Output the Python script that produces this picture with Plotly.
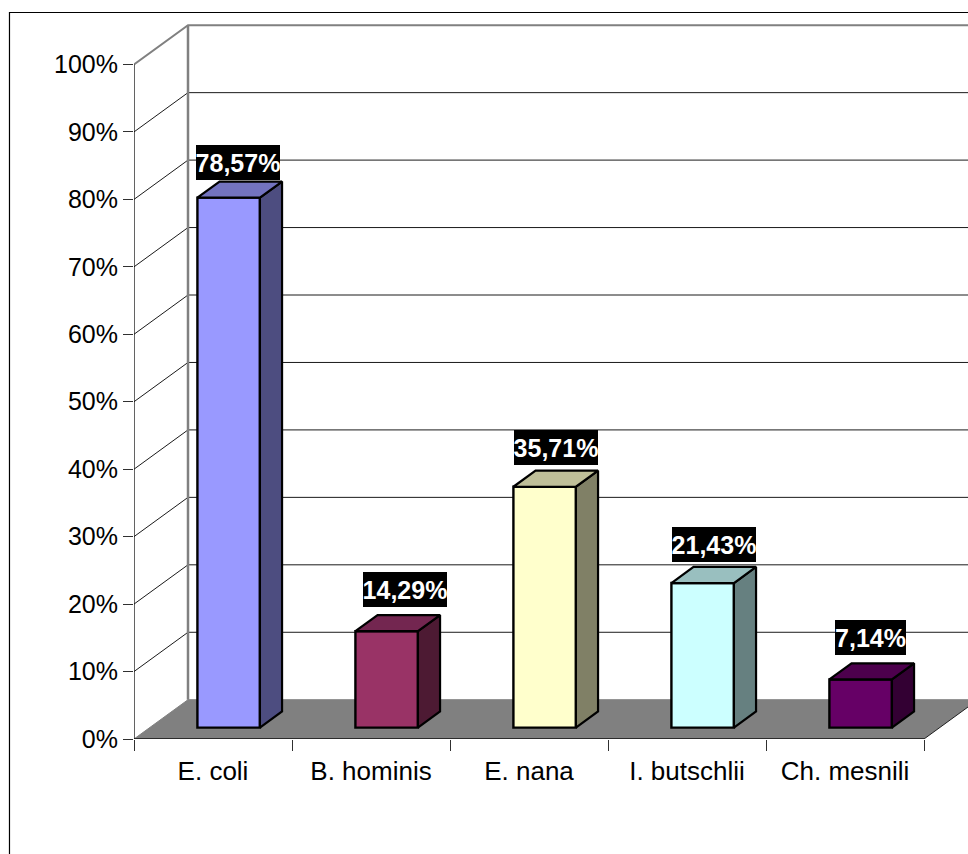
import plotly.graph_objects as go

# Chart data
categories = ["E. coli", "B. hominis", "E. nana", "I. butschlii", "Ch. mesnili"]
values = [78.57, 14.29, 35.71, 21.43, 7.14]
grid_levels = [0, 10, 20, 30, 40, 50, 60, 70, 80, 90, 100]

# Fill colours per bar: front, side, top faces
front_colors = ["#9999FF", "#993366", "#FFFFCC", "#CCFFFF", "#660066"]
side_colors = ["#4D4D80", "#4D1A33", "#808066", "#668080", "#330033"]
top_colors = ["#7373BF", "#732650", "#BFBF99", "#99BFBF", "#4D004D"]

# Label box placement relative to the bar's top front edge (pixels)
label_dx = [9.5, 18, 11, 11, 10]
label_dy = [35, 42, 39.5, 38.5, 41.5]
label_w = [84, 84, 84, 84, 71]

# Oblique projection: one full unit of depth moves this far in axis units
W, H = 968, 854
LEFT, TOP, BOTTOM = 134, 20, 114.5
PX_PER_CAT = 158
PX_PER_PCT = 6.75
DEPTH_X = 54 / PX_PER_CAT
DEPTH_Y = 39.3 / PX_PER_PCT
BAR_WIDTH = 62.5 / PX_PER_CAT
BAR_NEAR, BAR_FAR = 0.29, 0.70
N = len(categories)


def project(x, y, depth):
    return x + depth * DEPTH_X, y + depth * DEPTH_Y


def path(points):
    return "M " + " L ".join(f"{x:.4f},{y:.4f}" for x, y in points) + " Z"


def open_path(points):
    return "M " + " L ".join(f"{x:.4f},{y:.4f}" for x, y in points)


x_range = [0, (W - LEFT) / PX_PER_CAT]
y_range = [0, (H - TOP - BOTTOM) / PX_PER_PCT]

shapes = []

# Floor and back wall edges
shapes.append(dict(type="path", layer="below", xref="x", yref="y",
                   path=path([project(0, 0, 0), project(N, 0, 0), project(N, 0, 1), project(0, 0, 1)]),
                   fillcolor="#808080", line=dict(width=0)))

# Gridlines run along the side wall, then across the back wall
for level in grid_levels:
    corner = project(0, level, 1)
    top = level == 100
    shapes.append(dict(type="path", layer="below", xref="x", yref="y",
                       path=open_path([project(0, level, 0), corner, project(N, level, 1)]),
                       line=dict(color="#808080" if top or level == 0 else "#1A1A1A",
                                 width=2 if top else 1)))
shapes.append(dict(type="path", layer="below", xref="x", yref="y",
                   path=open_path([project(0, 0, 1), project(0, 100, 1)]),
                   line=dict(color="#808080", width=2.5)))

# Outer chart frame, open at the right and bottom edges of the page
frame_x = (9.5 - LEFT) / (W - LEFT)
frame_y = (H - BOTTOM - 12.5) / (H - TOP - BOTTOM)
shapes.append(dict(type="path", layer="below", xref="paper", yref="paper",
                   path=open_path([(frame_x, (BOTTOM - H) / (H - TOP - BOTTOM)), (frame_x, frame_y), (1.0, frame_y)]),
                   line=dict(color="#000000", width=1.2)))

fig = go.Figure()

# Front faces of the bars
x_near = [project(i + 0.5, 0, BAR_NEAR)[0] for i in range(N)]
base_near = project(0, 0, BAR_NEAR)[1]
fig.add_trace(go.Bar(x=x_near, y=values, base=base_near, width=BAR_WIDTH,
                     marker=dict(color=front_colors, line=dict(color="#000000", width=2.4)),
                     hoverinfo="skip", showlegend=False))


def add_face(points, color):
    xs, ys = zip(*(points + points[:1]))
    fig.add_trace(go.Scatter(x=xs, y=ys, mode="lines", fill="toself", fillcolor=color,
                             line=dict(color="#000000", width=2.2), hoverinfo="skip",
                             showlegend=False))


# Side and top faces of the bars
for i, v in enumerate(values):
    xl = i + 0.5 - BAR_WIDTH / 2
    xr = i + 0.5 + BAR_WIDTH / 2
    add_face([project(xr, 0, BAR_NEAR), project(xr, 0, BAR_FAR),
              project(xr, v, BAR_FAR), project(xr, v, BAR_NEAR)], side_colors[i])
    add_face([project(xl, v, BAR_NEAR), project(xr, v, BAR_NEAR),
              project(xr, v, BAR_FAR), project(xl, v, BAR_FAR)], top_colors[i])

# Front axis lines, which stop at the end of the category range
fig.add_trace(go.Scatter(x=[0, 0, N], y=[100, 0, 0], mode="lines",
                         line=dict(color="#101010", width=1.3), hoverinfo="skip",
                         showlegend=False, cliponaxis=False))
fig.add_trace(go.Scatter(x=[N, N + DEPTH_X], y=[0, DEPTH_Y], mode="lines",
                         line=dict(color="#202020", width=1), hoverinfo="skip",
                         showlegend=False))

# Value labels on black boxes
annotations = []
for i, v in enumerate(values):
    annotations.append(dict(
        x=x_near[i], y=v + base_near, xref="x", yref="y",
        text=f"<b>{v:.2f}%</b>".replace(".", ","),
        showarrow=False, xanchor="center", yanchor="middle",
        xshift=label_dx[i], yshift=label_dy[i],
        width=label_w[i], height=35, bgcolor="#000000", borderpad=0, borderwidth=0,
        font=dict(family="Liberation Sans", size=25, color="#FFFFFF"),
    ))

fig.update_layout(
    width=W, height=H, autosize=False,
    margin=dict(l=LEFT, r=0, t=TOP, b=BOTTOM, pad=0),
    paper_bgcolor="#FFFFFF", plot_bgcolor="#FFFFFF",
    font=dict(family="Liberation Sans", size=25, color="#000000"),
    showlegend=False, shapes=shapes, annotations=annotations,
    xaxis=dict(range=x_range, tickmode="array",
               tickvals=[i + 0.5 for i in range(N)], ticktext=categories,
               tickfont=dict(size=26),
               ticks="outside", ticklen=9, tickcolor="rgba(0,0,0,0)",
               showgrid=False, zeroline=False, showline=False, fixedrange=True,
               minor=dict(tick0=0, dtick=1, ticks="outside", ticklen=11,
                          tickcolor="#303030", tickwidth=1, showgrid=False)),
    yaxis=dict(range=y_range, tickmode="array", tickvals=grid_levels,
               ticktext=[f"{v}%" for v in grid_levels],
               ticks="outside", ticklen=10, tickcolor="#303030", tickwidth=1,
               showgrid=False, zeroline=False, showline=False, fixedrange=True),
)

fig.write_html("out.html", config=dict(displayModeBar=False))
